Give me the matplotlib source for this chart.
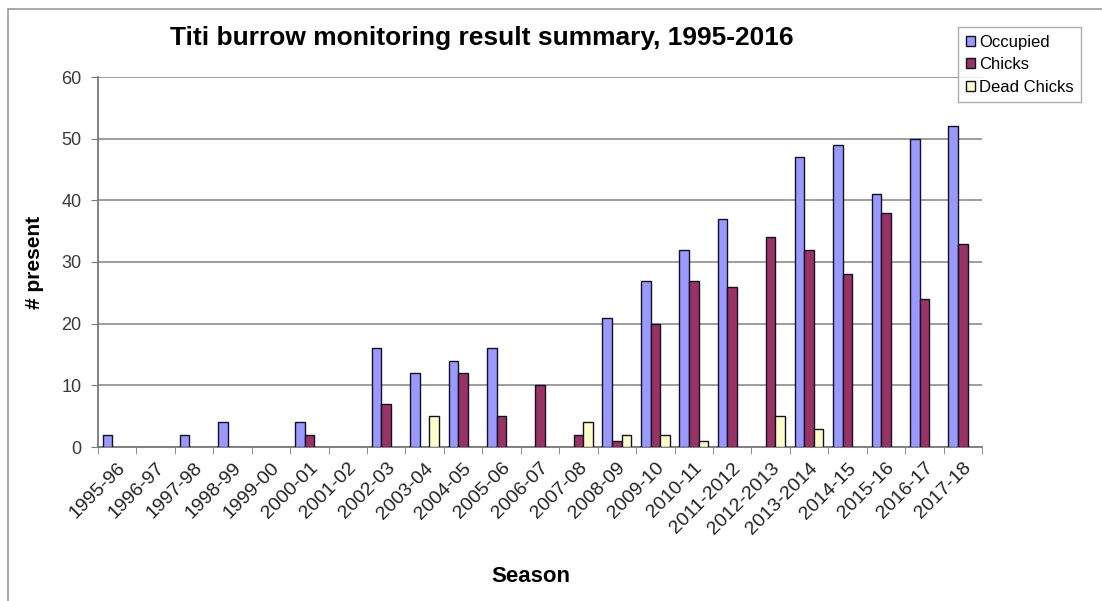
import numpy as np
import matplotlib
matplotlib.use("Agg")
import matplotlib.pyplot as plt
from matplotlib.patches import Rectangle, Patch

plt.rcParams['font.family'] = ['Liberation Sans', 'DejaVu Sans']

seasons = ["1995-96", "1996-97", "1997-98", "1998-99", "1999-00", "2000-01",
           "2001-02", "2002-03", "2003-04", "2004-05", "2005-06", "2006-07",
           "2007-08", "2008-09", "2009-10", "2010-11", "2011-2012", "2012-2013",
           "2013-2014", "2014-15", "2015-16", "2016-17", "2017-18"]
occupied = [2, 0, 2, 4, 0, 4, 0, 16, 12, 14, 16, 0, 0, 21, 27, 32, 37, 0, 47, 49, 41, 50, 52]
chicks = [0, 0, 0, 0, 0, 2, 0, 7, 0, 12, 5, 10, 2, 1, 20, 27, 26, 34, 32, 28, 38, 24, 33]
dead_chicks = [0, 0, 0, 0, 0, 0, 0, 0, 5, 0, 0, 0, 4, 2, 2, 1, 0, 5, 3, 0, 0, 0, 0]

series = [("Occupied", occupied, "#9999FF"),
          ("Chicks", chicks, "#993366"),
          ("Dead Chicks", dead_chicks, "#FFFFCC")]

W, H = 1102, 601
fig = plt.figure(figsize=(W / 100, H / 100), dpi=100)
fig.patch.set_facecolor("white")

# chart frame
fig.patches.append(Rectangle((8 / W, -0.1), 1.2, 1 - 9 / H + 0.1,
                             transform=fig.transFigure, fill=False,
                             edgecolor="#9a9a9a", linewidth=1.2))

left, right, top, bottom = 98, 982, 77, 447
ax = fig.add_axes([left / W, 1 - bottom / H, (right - left) / W, (bottom - top) / H])

x = np.arange(len(seasons))
bw = 0.25
for k, (name, vals, col) in enumerate(series):
    vals = np.asarray(vals, dtype=float)
    mask = vals > 0
    ax.bar(x[mask] + (k - 1) * bw, vals[mask], width=bw, color=col,
           edgecolor="#111122", linewidth=1.0, zorder=3)

ax.set_xlim(-0.5, len(seasons) - 0.5)
ax.set_ylim(0, 60)
ax.set_yticks(range(0, 61, 10))
ax.yaxis.grid(True, color="#8c8c8c", linewidth=1.2, zorder=0)
ax.set_axisbelow(True)
for s in ["top", "right"]:
    ax.spines[s].set_visible(False)
for s in ["left", "bottom"]:
    ax.spines[s].set_color("#7a7a7a")
    ax.spines[s].set_linewidth(1.3)

ax.tick_params(axis="y", direction="out", length=5, color="#7a7a7a",
               labelsize=13, labelcolor="#3a3a3a", pad=7)
ax.set_xticks(x)
ax.set_xticklabels(seasons, rotation=45, ha="right", rotation_mode="anchor",
                   fontsize=14, color="#222222")
ax.tick_params(axis="x", which="major", length=0, pad=9)
ax.set_xticks(np.arange(-0.5, len(seasons), 1.0), minor=True)
ax.tick_params(axis="x", which="minor", direction="out", length=5, color="#7a7a7a")

ax.set_ylabel("# present", fontsize=15, fontweight="bold", labelpad=12)
fig.text(531 / W, 1 - 577 / H, "Season", fontsize=16, fontweight="bold",
         ha="center", va="center")
fig.text(482 / W, 1 - 38 / H, "Titi burrow monitoring result summary, 1995-2016",
         fontsize=19, fontweight="bold", ha="center", va="center")

handles = [Patch(facecolor=c, edgecolor="#111122", linewidth=1.0) for _, _, c in series]
leg = fig.legend(handles, [n for n, _, _ in series], loc="upper left",
                 bbox_to_anchor=(958 / W, 1 - 27 / H), fontsize=12,
                 frameon=True, fancybox=False, edgecolor="#9a9a9a",
                 handlelength=0.55, handleheight=0.55, handletextpad=0.25,
                 borderpad=0.45, labelspacing=0.45, borderaxespad=0)
leg.get_frame().set_linewidth(1.0)

fig.savefig("out.png", dpi=100)
